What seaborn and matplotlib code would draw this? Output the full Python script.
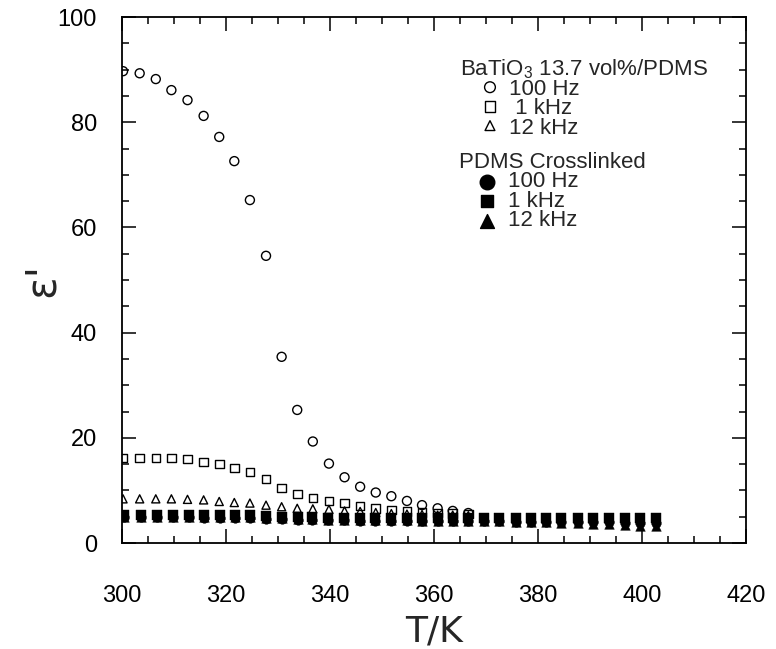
import matplotlib
matplotlib.use("Agg")
import matplotlib.pyplot as plt
import seaborn as sns
from matplotlib.ticker import MultipleLocator

# BaTiO3 13.7 vol% / PDMS composite: temperature (K) and permittivity
t_comp = [300.2, 303.4, 306.5, 309.5, 312.6, 315.7, 318.7, 321.6, 324.6, 327.7,
          330.7, 333.7, 336.7, 339.8, 342.8, 345.8, 348.8, 351.8, 354.8, 357.7,
          360.7, 363.6, 366.6]
eps_comp_100hz = [89.7, 89.3, 88.2, 86.1, 84.2, 81.2, 77.2, 72.6, 65.2, 54.6,
                  35.4, 25.3, 19.3, 15.1, 12.5, 10.7, 9.6, 8.9, 8.0, 7.2,
                  6.6, 6.1, 5.7]
eps_comp_1khz = [16.2, 16.2, 16.2, 16.2, 16.0, 15.4, 15.0, 14.3, 13.5, 12.2,
                 10.5, 9.3, 8.6, 8.0, 7.6, 7.0, 6.6, 6.3, 6.0, 5.8,
                 5.7, 5.6, 5.5]
eps_comp_12khz = [8.4, 8.4, 8.4, 8.4, 8.3, 8.2, 7.9, 7.7, 7.6, 7.2,
                  6.9, 6.6, 6.5, 6.4, 6.1, 6.0, 5.8, 5.6, 5.5, 5.4,
                  5.3, 5.3, 5.2]

# crosslinked PDMS: temperature (K) and permittivity
t_pdms = [300.4, 303.6, 306.7, 309.8, 312.8, 315.8, 318.8, 321.8, 324.7, 327.7,
          330.7, 333.8, 336.6, 339.7, 342.7, 345.8, 348.7, 351.7, 354.8, 357.7,
          360.7, 363.6, 366.6, 369.7, 372.6, 375.7, 378.7, 381.6, 384.5, 387.7,
          390.6, 393.7, 396.7, 399.6, 402.7]
eps_pdms_100hz = [4.9, 4.9, 4.9, 4.9, 4.9, 4.8, 4.8, 4.8, 4.8, 4.6,
                  4.5, 4.4, 4.4, 4.3, 4.3, 4.2, 4.2, 4.2, 4.2, 4.2,
                  4.1, 4.1, 4.1, 4.1, 4.1, 4.0, 4.0, 4.0, 4.0, 4.0,
                  4.0, 4.0, 3.9, 3.9, 3.9]
eps_pdms_1khz = [5.4, 5.4, 5.4, 5.4, 5.4, 5.3, 5.3, 5.3, 5.3, 5.1,
                 5.0, 4.9, 4.9, 4.8, 4.8, 4.8, 4.8, 4.8, 4.8, 4.8,
                 4.8, 4.8, 4.8, 4.8, 4.8, 4.8, 4.8, 4.8, 4.8, 4.8,
                 4.8, 4.8, 4.8, 4.8, 4.8]
eps_pdms_12khz = [5.0, 5.0, 5.0, 5.0, 5.0, 5.0, 5.0, 5.0, 5.0, 4.8,
                  4.7, 4.6, 4.5, 4.4, 4.4, 4.3, 4.3, 4.3, 4.3, 4.2,
                  4.2, 4.2, 4.1, 4.1, 4.1, 4.0, 4.0, 4.0, 3.9, 3.8,
                  3.7, 3.6, 3.4, 3.3, 3.3]

x_ticks = [300, 320, 340, 360, 380, 400, 420]
y_ticks = [0, 20, 40, 60, 80, 100]

comp_title = "BaTiO$_3$ 13.7 vol%/PDMS"
comp_labels = ["100 Hz", " 1 kHz", "12 kHz"]
pdms_title = "PDMS Crosslinked"
pdms_labels = ["100 Hz", "1 kHz", "12 kHz"]

sns.set_theme(style="ticks")
plt.rcParams["font.family"] = ["Liberation Sans", "DejaVu Sans"]
plt.rcParams["mathtext.default"] = "regular"

fig = plt.figure(figsize=(7.76, 6.49), dpi=100)
ax = fig.add_axes([0.1572, 0.1633, 0.8041, 0.8105])

open_series = [
    (eps_comp_100hz, "o", 42),
    (eps_comp_1khz, "s", 38),
    (eps_comp_12khz, "^", 34),
]
for values, marker, size in open_series:
    sns.scatterplot(x=t_comp, y=values, marker=marker, s=size, color="black",
                    facecolor="none", edgecolor="black", linewidth=1.0,
                    ax=ax, zorder=3)

filled_series = [
    (eps_pdms_100hz, "o", 48),
    (eps_pdms_12khz, "^", 48),
    (eps_pdms_1khz, "s", 44),
]
for values, marker, size in filled_series:
    sns.scatterplot(x=t_pdms, y=values, marker=marker, s=size, color="black",
                    edgecolor="black", linewidth=0.3, ax=ax, zorder=4)

ax.set_xlim(300, 420)
ax.set_ylim(0, 100)
ax.set_xticks(x_ticks)
ax.set_yticks(y_ticks)
ax.xaxis.set_minor_locator(MultipleLocator(5))
ax.yaxis.set_minor_locator(MultipleLocator(5))
ax.tick_params(which="both", direction="in", top=True, right=True,
               colors="black", width=1.1)
ax.tick_params(which="major", length=10, labelsize=17)
ax.tick_params(axis="x", which="major", pad=30)
ax.tick_params(axis="y", which="major", pad=18)
ax.tick_params(which="minor", length=5)
for spine in ax.spines.values():
    spine.set_color("black")
    spine.set_linewidth(1.3)

ax.set_xlabel("T/K", fontsize=26, family=["DejaVu Sans"])
ax.xaxis.set_label_coords(0.5, -0.135)
ax.set_ylabel("ε'", fontsize=30, family=["DejaVu Sans"])
ax.yaxis.set_label_coords(-0.095, 0.5)


# key, written inside the plot area; each group is one text block
def ax_xy(px, py):
    return (px - 122) / 624, (543 - py) / 526


key_font = 16
key_pitch = 19.2          # pixels between rows
key_spacing = 0.9


def key_group(x_title, y_title, x_text, x_mark, title, labels, markers,
              sizes, filled):
    indent = " " * 8
    block = "\n".join([title] + [indent + lab for lab in labels])
    tx, ty = ax_xy(x_title, y_title)
    ax.text(tx, ty, block, transform=ax.transAxes, fontsize=key_font,
            ha="left", va="top", linespacing=key_spacing)
    for i, (marker, size) in enumerate(zip(markers, sizes)):
        mx, my = ax_xy(x_mark, y_title + 10 + key_pitch * (i + 1) + 1)
        if filled:
            ax.scatter([mx], [my], transform=ax.transAxes, marker=marker,
                       s=size, color="black", clip_on=False, zorder=5)
        else:
            ax.scatter([mx], [my], transform=ax.transAxes, marker=marker,
                       s=size, facecolors="none", edgecolors="black",
                       linewidths=1.0, clip_on=False, zorder=5)


key_group(460, 57, 512, 490, comp_title, comp_labels, ["o", "s", "^"],
          [60, 55, 50], filled=False)
key_group(459, 152, 510, 487, pdms_title, pdms_labels, ["o", "s", "^"],
          [110, 80, 100], filled=True)

fig.savefig("out.png", dpi=100, facecolor="white")
